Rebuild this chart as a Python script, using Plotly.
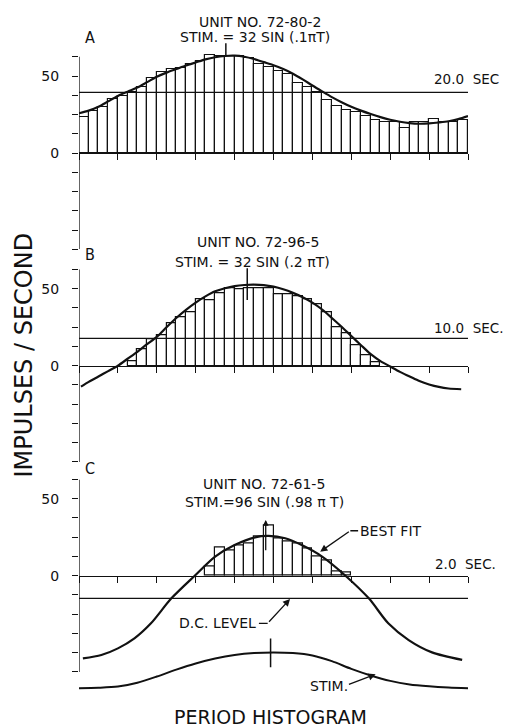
import plotly.graph_objects as go

# ---------------- data ----------------
# Panel A: unit 72-80-2, 40 bins over a 20.0 s period
a_bins = list(range(40))
a_rate = [23.6, 27.5, 29.7, 35.1, 37.0, 39.4, 43.1, 48.5, 52.2, 54.3,
          55.4, 57.8, 59.7, 63.6, 63.0, 63.0, 63.0, 61.5, 58.0, 56.0,
          53.0, 51.3, 45.6, 42.6, 39.8, 34.4, 30.7, 27.9, 26.8, 24.2,
          21.4, 19.9, 19.9, 16.0, 19.9, 19.9, 22.0, 19.9, 19.9, 21.4]
a_fit_x = list(range(41))
a_fit = [25.8, 27.5, 30.0, 33.5, 37.0, 39.8, 42.5, 46.0, 49.5, 52.2,
         54.5, 56.8, 58.8, 60.8, 62.2, 63.0, 63.2, 62.5, 61.0, 59.0,
         57.0, 54.5, 51.5, 47.8, 43.8, 40.0, 36.3, 33.0, 30.0, 27.5,
         25.3, 23.3, 21.6, 20.3, 19.4, 19.0, 19.2, 19.8, 20.6, 22.0, 24.0]

# Panel B: unit 72-96-5, 10.0 s period
b_bins = list(range(5, 31))
b_rate = [3.0, 10.6, 17.0, 19.8, 27.4, 31.7, 34.9, 42.9, 42.4, 47.2,
          50.6, 49.4, 50.6, 50.6, 50.6, 46.5, 46.5, 45.3, 43.5, 40.1,
          35.1, 25.2, 21.4, 13.6, 7.1, 2.4]
b_fit_x = [0.2, 1, 2, 3, 4, 5, 6, 7, 8, 9, 10, 11, 12, 13, 14, 15, 16, 17, 18, 19,
           20, 21, 22, 23, 24, 25, 26, 27, 28, 29, 30, 31, 32, 33, 34, 35, 36, 37, 38, 39.3]
b_fit = [-13.6, -10.5, -7.0, -3.5, 0.0, 4.5, 9.0, 14.0, 18.7, 25.0,
         31.0, 36.3, 41.0, 45.0, 48.3, 50.3, 51.7, 52.4, 52.6, 52.3,
         51.3, 49.6, 47.3, 44.5, 41.0, 36.5, 31.0, 25.3, 19.3, 13.3,
         7.5, 3.0, -0.5, -4.0, -7.0, -10.0, -12.2, -13.8, -14.8, -15.3]

# Panel C: unit 72-61-5, 2.0 s period
c_bins = list(range(13, 28))
c_rate = [5.8, 18.4, 16.2, 19.9, 21.0, 25.3, 32.9, 24.3, 22.1, 21.0,
          17.8, 12.8, 9.7, 2.6, 2.0]
c_fit_x = [0.4, 2.3, 4.0, 5.7, 7.4, 9.5, 11.9, 14.0, 16.0, 18.1, 19.5,
           21.2, 22.9, 25.0, 27.4, 29.8, 31.8, 33.9, 36.3, 39.4]
c_fit = [-53.7, -51.5, -47.2, -40.7, -30.9, -14.7, 0.0, 12.4, 19.9, 24.9, 25.8,
         24.3, 19.9, 12.4, 0.0, -14.7, -30.9, -41.8, -49.8, -54.7]
c_stim_x = [0, 2, 4, 6, 8, 10, 12, 14, 16, 18, 20, 22, 24, 26, 28, 30, 32, 34, 36, 38, 40]
c_stim = [-73.1, -72.8, -72.0, -69.5, -65.5, -61.0, -57.0, -53.8, -51.5, -50.2, -49.8,
          -50.2, -51.8, -55.5, -60.5, -64.8, -68.3, -70.6, -71.8, -72.6, -73.1]

dc_level = [39.4, 17.8, -14.7]
# stimulus-peak marker lines: bin position, low, high
marker_x = [15.1, 17.3, 19.7]
marker_lo = [63.0, 42.7, -59.5]
marker_hi = [71.2, 63.2, -40.7]
# response-peak arrow in C
c_peak_x, c_peak_lo, c_peak_hi = 19.2, 15.6, 36.2

titles1 = ["UNIT NO. 72-80-2", "UNIT NO. 72-96-5", "UNIT NO. 72-61-5"]
titles2 = ["STIM. = 32 SIN (.1πT)", "STIM. = 32 SIN (.2 πT)", "STIM.=96 SIN (.98 π T)"]
letters = ["A", "B", "C"]
periods = ["20.0\u00a0 SEC", "10.0\u00a0 SEC.", "2.0\u00a0 SEC."]
ytick_vals = [-62.5 + 12.5 * i for i in range(11)]
ytick_text = ["50" if v == 50 else ("0" if v == 0 else "") for v in ytick_vals]
xtick_vals = list(range(0, 41, 4))

# ---------------- layout geometry ----------------
W, H = 507, 728
PX = 1.54            # pixels per impulse/s
X0, X1 = 79, 468
panels = [dict(zero=153.0, yr=(-62.5, 72.0)),
          dict(zero=365.7, yr=(-62.5, 64.0)),
          dict(zero=575.7, yr=(-76.0, 62.5))]

INK = "#111111"
FONT = "DejaVu Sans"
NARROW = "Liberation Sans Narrow, DejaVu Sans Condensed, DejaVu Sans"
fig = go.Figure()

bars = [(a_bins, a_rate), (b_bins, b_rate), (c_bins, c_rate)]
fits = [(a_fit_x, a_fit), (b_fit_x, b_fit), (c_fit_x, c_fit)]

layout = dict(width=W, height=H, margin=dict(l=0, r=0, t=0, b=0),
              paper_bgcolor="white", plot_bgcolor="rgba(0,0,0,0)",
              showlegend=False, barmode="overlay", bargap=0,
              font=dict(family=FONT, color=INK))
shapes = []
annotations = []


def ann(text, px, py, size=14, xanchor="center", family=FONT, **kw):
    annotations.append(dict(text=text, x=px / W, y=1 - py / H, xref="paper", yref="paper",
                            xanchor=xanchor, yanchor="middle", showarrow=False,
                            font=dict(family=family, size=size, color=INK), **kw))


for i, p in enumerate(panels):
    n = "" if i == 0 else str(i + 1)
    xa, ya = "x" + n, "y" + n
    top_px = p["zero"] - p["yr"][1] * PX
    bot_px = p["zero"] - p["yr"][0] * PX
    layout["xaxis" + n] = dict(domain=[X0 / W, X1 / W], range=[0, 40], anchor="free",
                               position=1 - p["zero"] / H, showline=True, linecolor=INK,
                               linewidth=1.3, ticks="outside", ticklen=6, tickwidth=1.3,
                               tickcolor=INK, tickvals=xtick_vals, showticklabels=False,
                               showgrid=False, zeroline=False, fixedrange=True)
    layout["yaxis" + n] = dict(domain=[1 - bot_px / H, 1 - top_px / H], range=list(p["yr"]),
                               anchor=xa, showline=False, ticks="outside", ticklen=6,
                               tickwidth=1.3, tickcolor=INK, tickvals=ytick_vals,
                               ticktext=ytick_text, ticklabelstandoff=10,
                               tickfont=dict(family=FONT, size=14, color=INK),
                               showgrid=False, zeroline=False, fixedrange=True)
    # y spine from -62.5 to 62.5
    shapes.append(dict(type="line", xref=xa, yref=ya, x0=0, x1=0, y0=-62.5, y1=62.5,
                       line=dict(color=INK, width=1.3)))
    bx, by = bars[i]
    fig.add_trace(go.Bar(x=[b + 0.5 for b in bx], y=by, width=1, xaxis=xa, yaxis=ya,
                         marker=dict(color="white", line=dict(color=INK, width=1.2))))
    fig.add_trace(go.Scatter(x=[0, 40], y=[dc_level[i], dc_level[i]], mode="lines",
                             xaxis=xa, yaxis=ya, line=dict(color=INK, width=1.3)))
    fx, fy = fits[i]
    fig.add_trace(go.Scatter(x=fx, y=fy, mode="lines", xaxis=xa, yaxis=ya,
                             line=dict(color=INK, width=2.2, shape="spline", smoothing=0.8)))
    fig.add_trace(go.Scatter(x=[marker_x[i], marker_x[i]], y=[marker_lo[i], marker_hi[i]],
                             mode="lines", xaxis=xa, yaxis=ya,
                             line=dict(color=INK, width=1.5)))

# stimulus waveform in C
fig.add_trace(go.Scatter(x=c_stim_x, y=c_stim, mode="lines", xaxis="x3", yaxis="y3",
                         line=dict(color=INK, width=2.0, shape="spline", smoothing=0.8)))

# text
tpos = [((260, 22), (255, 37), (90, 37), (432, 79.3)),
        ((257.5, 241.7), (252.5, 261.7), (90, 255), (432, 327.7)),
        ((264, 484), (264, 501.7), (90, 468.3), (433, 564.3))]
for i in range(3):
    (t1, t2, lt, pt) = tpos[i]
    ann(titles1[i], *t1, size=14)
    ann(titles2[i], *t2, size=14)
    ann(letters[i], *lt, size=16, family=NARROW)
    ann(periods[i], *pt, size=13.5, xanchor="left")

ann("BEST FIT", 358, 531, size=14, xanchor="left")
ann("D.C. LEVEL", 258, 622.7, size=14, xanchor="right")
ann("STIM.", 308, 685.5, size=14, xanchor="left")
ann("IMPULSES / SECOND", 23.5, 355, size=24, textangle=-90)
ann("PERIOD HISTOGRAM", 270, 717, size=19)


# leader arrows in panel C (data coordinates)
def arrow(x, y, ax, ay, head=2, size=1.1):
    annotations.append(dict(text="", x=x, y=y, ax=ax, ay=ay, xref="x3", yref="y3",
                            axref="x3", ayref="y3", showarrow=True, arrowhead=head,
                            arrowsize=size, arrowwidth=1.3, arrowcolor=INK, standoff=0))


arrow(24.8, 15.6, 27.9, 29.2)
shapes.append(dict(type="line", xref="x3", yref="y3", x0=27.9, x1=28.7, y0=29.2, y1=29.2,
                   line=dict(color=INK, width=1.3)))
arrow(21.7, -15.1, 19.4, -30.9)
shapes.append(dict(type="line", xref="x3", yref="y3", x0=18.5, x1=19.4, y0=-30.9, y1=-30.9,
                   line=dict(color=INK, width=1.3)))
arrow(30.5, -64.0, 27.6, -71.0)
arrow(c_peak_x, c_peak_hi, c_peak_x, c_peak_lo, head=2, size=0.9)

layout["shapes"] = shapes
layout["annotations"] = annotations
fig.update_layout(**layout)
fig.write_html("out.html", config={"displayModeBar": False},
               post_script="document.body.style.margin='0';document.body.style.overflow='hidden';")
